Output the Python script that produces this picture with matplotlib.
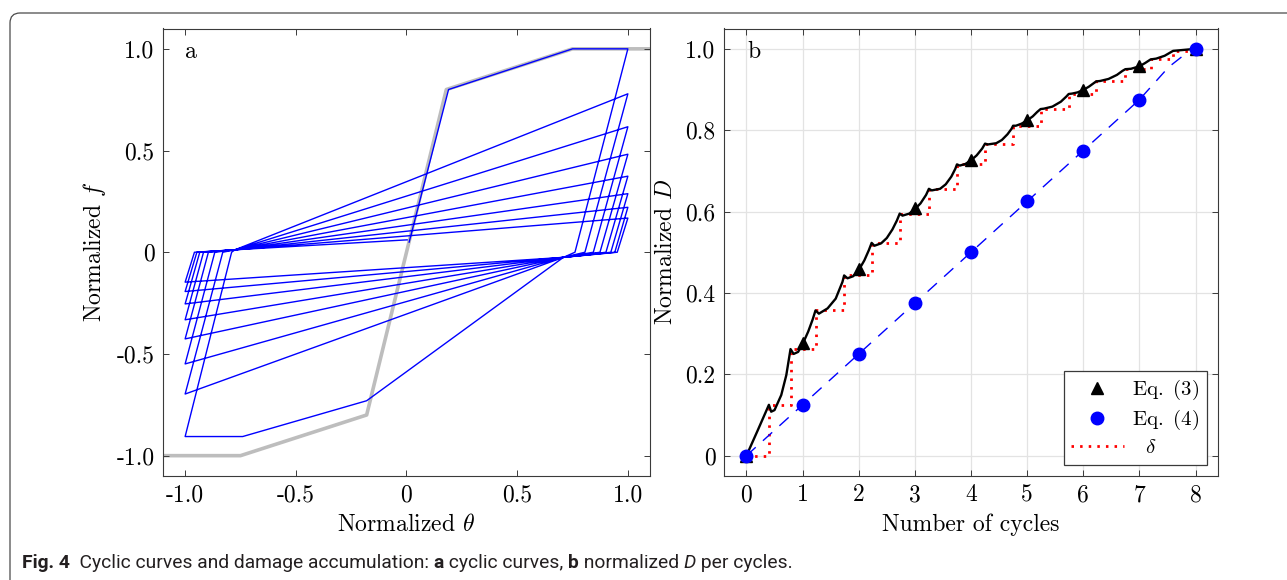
import matplotlib
matplotlib.use("Agg")
import matplotlib.pyplot as plt
from matplotlib import font_manager
from matplotlib.path import Path
from matplotlib.patches import PathPatch

plt.rcParams['font.family'] = 'serif'
plt.rcParams['font.serif'] = ['cmr10']
plt.rcParams['mathtext.fontset'] = 'cm'
plt.rcParams['axes.unicode_minus'] = False
plt.rcParams['axes.formatter.use_mathtext'] = True
plt.rcParams['font.size'] = 17

# ---- panel a: cyclic curves ----
backbone_theta = [-1.1, -0.75, -0.18, 0.18, 0.75, 1.1]
backbone_f = [-1.0, -1.0, -0.8, 0.8, 1.0, 1.0]

first_theta = [0.012, 0.19, 0.75]
first_f = [0.05, 0.80, 1.0]
pos_peak = [1.0, 0.779, 0.617, 0.482, 0.374, 0.288, 0.221, 0.168]
pos_unload_end = [0.761, 0.806, 0.844, 0.874, 0.901, 0.923, 0.941, 0.952]
neg_peak = [-0.906, -0.697, -0.549, -0.426, -0.332, -0.254, -0.193, -0.147]
neg_unload_end = [-0.79, -0.83, -0.866, -0.895, -0.917, -0.934, -0.947, -0.958]
first_neg_theta = [-0.18, -0.74]
first_neg_f = [-0.73, -0.906]
right_pivot = (0.709, -0.025)
left_pivot = (-0.775, 0.012)
last_end = (0.003, 0.061)

# ---- panel b: damage accumulation ----
cycles = [0, 1, 2, 3, 4, 5, 6, 7, 8]
d_eq3 = [0, 0.277, 0.458, 0.608, 0.727, 0.825, 0.900, 0.957, 1.0]
d_eq4 = [0, 0.125, 0.25, 0.375, 0.5, 0.625, 0.75, 0.875, 1.0]
miner_n = [0, 7.0, 7.52, 7.75]
miner_d = [0, 0.875, 0.955, 0.98]
delta_n = [0, 0.40, 0.79, 1.23, 1.74, 2.23, 2.73, 3.25, 3.75, 4.25, 4.75,
           5.24, 5.74, 6.23, 6.75, 7.2, 7.6, 8.0]
delta_d = [0, 0.125, 0.262, 0.357, 0.443, 0.523, 0.595, 0.656, 0.716, 0.767,
           0.811, 0.852, 0.889, 0.920, 0.950, 0.974, 0.995, 1.0]
curve_n = [0, 0.2, 0.40, 0.44, 0.50, 0.62, 0.71, 0.785, 0.84, 0.92, 1.0, 1.1,
           1.18, 1.23, 1.29, 1.445, 1.59, 1.71, 1.74, 1.80, 1.9, 2.0, 2.1, 2.18,
           2.23, 2.28, 2.4, 2.5, 2.6, 2.68, 2.73, 2.78, 2.9, 3.0, 3.1, 3.2, 3.25,
           3.3, 3.45, 3.55, 3.65, 3.72, 3.75, 3.8, 3.9, 4.0, 4.1, 4.2, 4.25, 4.3,
           4.45, 4.55, 4.65, 4.72, 4.75, 4.8, 4.9, 5.0, 5.1, 5.18, 5.24, 5.3,
           5.45, 5.6, 5.7, 5.74, 5.8, 5.9, 6.0, 6.1, 6.18, 6.23, 6.3, 6.45, 6.6,
           6.7, 6.75, 6.85, 7.0, 7.1, 7.2, 7.3, 7.45, 7.6, 8.0]
curve_d = [0, 0.062, 0.125, 0.108, 0.112, 0.149, 0.198, 0.262, 0.250, 0.255,
           0.274, 0.305, 0.335, 0.357, 0.349, 0.362, 0.386, 0.427, 0.443, 0.436,
           0.441, 0.456, 0.48, 0.505, 0.523, 0.516, 0.522, 0.535, 0.556, 0.578,
           0.595, 0.590, 0.595, 0.606, 0.62, 0.641, 0.656, 0.652, 0.656, 0.667,
           0.686, 0.705, 0.716, 0.713, 0.717, 0.726, 0.738, 0.755, 0.767, 0.765,
           0.768, 0.776, 0.79, 0.803, 0.811, 0.811, 0.816, 0.824, 0.834, 0.845,
           0.852, 0.853, 0.858, 0.870, 0.883, 0.889, 0.890, 0.893, 0.899, 0.907,
           0.915, 0.920, 0.921, 0.926, 0.936, 0.946, 0.950, 0.951, 0.957, 0.965,
           0.974, 0.976, 0.983, 0.995, 1.0]

W, H = 1287, 580
fig = plt.figure(figsize=(W / 100, H / 100), dpi=100)

def style_axes(ax):
    for s in ax.spines.values():
        s.set_color('#3a3a3a')
        s.set_linewidth(0.8)
    ax.tick_params(direction='in', top=True, right=True, length=4,
                   width=0.7, color='#3a3a3a', pad=6, labelsize=17)

# panel a
ax1 = fig.add_axes([163 / W, 1 - 476 / H, 487 / W, 447.5 / H])
ax1.plot(backbone_theta, backbone_f, color='#bdbdbd', lw=2.6, zorder=1)

th = list(first_theta)
ff = list(first_f)
for k in range(len(pos_peak)):
    th.append(1.0); ff.append(pos_peak[k])
    th.append(pos_unload_end[k]); ff.append(0.0)
    th.append(right_pivot[0]); ff.append(right_pivot[1])
    if k == 0:
        th += first_neg_theta; ff += first_neg_f
    th.append(-1.0); ff.append(neg_peak[k])
    th.append(neg_unload_end[k]); ff.append(0.0)
    th.append(left_pivot[0]); ff.append(left_pivot[1])
th.append(last_end[0]); ff.append(last_end[1])
ax1.plot(th, ff, color='#0000ff', lw=1.0, zorder=2)

ax1.set_xlim(-1.1, 1.1)
ax1.set_ylim(-1.1, 1.1)
ticks_a = [-1.0, -0.5, 0, 0.5, 1.0]
labels_a = ['-1.0', '-0.5', '0', '0.5', '1.0']
ax1.set_xticks(ticks_a)
ax1.set_xticklabels(labels_a)
ax1.set_yticks(ticks_a)
ax1.set_yticklabels(labels_a)
style_axes(ax1)
ax1.set_xlabel(r'Normalized $\theta$', fontsize=17, labelpad=5)
ax1.set_ylabel(r'Normalized $f$', fontsize=17, labelpad=6)
ax1.text(0.045, 0.934, 'a', transform=ax1.transAxes, fontsize=17, va='baseline')

# panel b
ax2 = fig.add_axes([724 / W, 1 - 476 / H, 494 / W, 447.5 / H])
ax2.grid(True, color='#e3e3e3', lw=0.9, zorder=0)
ax2.set_axisbelow(True)
ax2.step(delta_n, delta_d, where='post', color='#ff0000', lw=2.0,
         linestyle=(0, (0.9, 2.2)), zorder=2, label=r'  $\delta$')
ax2.plot(miner_n, miner_d, color='#0000ff', lw=1.0, linestyle=(0, (9, 7)), zorder=2)
ax2.plot(curve_n, curve_d, color='black', lw=1.7, zorder=3)
ax2.plot(cycles, d_eq3, linestyle='none', marker='^', color='black',
         markersize=9, zorder=4, label=r'Eq. $\,$(3)')
ax2.plot(cycles, d_eq4, linestyle='none', marker='o', color='#0000ff',
         markersize=9, zorder=5, label=r'Eq. $\,$(4)')

ax2.set_xlim(-0.4, 8.4)
ax2.set_ylim(-0.05, 1.05)
ax2.set_xticks(cycles)
ax2.set_xticklabels([str(c) for c in cycles])
ticks_b = [0, 0.2, 0.4, 0.6, 0.8, 1.0]
ax2.set_yticks(ticks_b)
ax2.set_yticklabels(['0', '0.2', '0.4', '0.6', '0.8', '1.0'])
style_axes(ax2)
ax2.set_xlabel('Number of cycles', fontsize=17, labelpad=5)
ax2.set_ylabel(r'Normalized $D$', fontsize=17, labelpad=6)
ax2.text(0.047, 0.934, 'b', transform=ax2.transAxes, fontsize=17, va='baseline')

h, l = ax2.get_legend_handles_labels()
order = [1, 2, 0]
leg = ax2.legend([h[i] for i in order], [l[i] for i in order], loc='lower right',
                 fontsize=15, frameon=True, fancybox=False, framealpha=1,
                 edgecolor='#3a3a3a', borderaxespad=0.55, borderpad=0.35,
                 handlelength=2.5, handletextpad=0.4, labelspacing=0.3)
leg.get_frame().set_linewidth(0.9)

# outer frame with rounded top-left corner
def fx(px):
    return px / W

def fy(py):
    return 1 - py / H

verts = [(fx(10), fy(H)), (fx(10), fy(23)), (fx(10), fy(13)), (fx(20), fy(13)), (fx(W), fy(13))]
codes = [Path.MOVETO, Path.LINETO, Path.CURVE3, Path.CURVE3, Path.LINETO]
fig.add_artist(PathPatch(Path(verts, codes), fill=False, edgecolor='#4a4a4a',
                         lw=0.9, transform=fig.transFigure))

# caption
names = {f.name for f in font_manager.fontManager.ttflist}
cap_font = 'Liberation Sans Narrow' if 'Liberation Sans Narrow' in names else 'Roboto'
pieces = [('Fig. 4', 'bold', 'normal'),
          ('  Cyclic curves and damage accumulation: ', 'normal', 'normal'),
          ('a', 'bold', 'normal'),
          (' cyclic curves, ', 'normal', 'normal'),
          ('b', 'bold', 'normal'),
          (' normalized ', 'normal', 'normal'),
          ('D', 'normal', 'italic'),
          (' per cycles.', 'normal', 'normal')]
renderer = fig.canvas.get_renderer()

def advance(txt, size, weight, style):
    t1 = fig.text(0, 0, txt + '|', fontsize=size, family=cap_font, weight=weight, style=style)
    t2 = fig.text(0, 0, '|', fontsize=size, family=cap_font, weight=weight, style=style)
    w = t1.get_window_extent(renderer).width - t2.get_window_extent(renderer).width
    t1.remove(); t2.remove()
    return w

base = 12
total = sum(advance(p[0], base, p[1], p[2]) for p in pieces)
cap_size = base * 770 / total
x = 22
for txt, weight, style in pieces:
    fig.text(x / W, fy(568), txt, fontsize=cap_size, family=cap_font,
             weight=weight, style=style, color='#231f20', va='baseline')
    x += advance(txt, cap_size, weight, style)

fig.savefig('out.png', dpi=100)
